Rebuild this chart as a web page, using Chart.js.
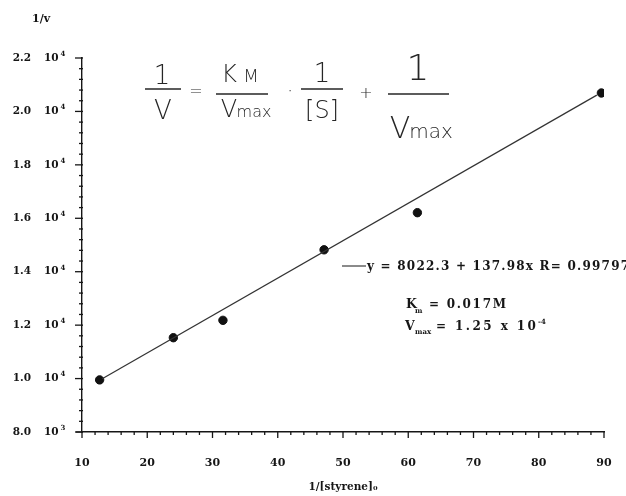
<!DOCTYPE html>
<html>
<head>
<meta charset="utf-8">
<script src="https://cdn.jsdelivr.net/npm/chart.js@4/dist/chart.umd.min.js"></script>
<style>
  html, body { margin: 0; padding: 0; background: #ffffff; }
  #wrap { width: 626px; height: 496px; }
</style>
</head>
<body>
<div id="wrap"><canvas id="c" width="626" height="496"></canvas></div>
<script>
// ---- data ----
const invSubstrate = [12.7, 24.0, 31.6, 47.1, 61.4, 89.6];      // 1/[styrene]o
const invRate      = [9950, 11530, 12180, 14820, 16210, 20690]; // 1/v
const fitX = [13.1, 88.9];       // ends of the drawn regression line
const fitY = [9990, 20610];
const xTicks = [10, 20, 30, 40, 50, 60, 70, 80, 90];
const yTicks = [8000, 10000, 12000, 14000, 16000, 18000, 20000, 22000];
const yTickNums = ['8.0', '1.0', '1.2', '1.4', '1.6', '1.8', '2.0', '2.2'];
const yTickPows = ['10\u00B3', '10\u2074', '10\u2074', '10\u2074', '10\u2074', '10\u2074', '10\u2074', '10\u2074'];
const fitText = 'y = 8022.3 + 137.98x R= 0.99797';
const kmText = '= 0.017M';
const vmaxText = '= 1.25 x 10';

const INK = '#161616';
const SERIF = '"DejaVu Serif", "Liberation Serif", serif';

function fillFit(ctx, text, x, y, target) {
  ctx.letterSpacing = '0px';
  const w = ctx.measureText(text).width;
  const n = Math.max(1, text.length - 1);
  const ls = Math.max(0, (target - w) / n);
  ctx.letterSpacing = ls.toFixed(2) + 'px';
  ctx.fillText(text, x, y);
  ctx.letterSpacing = '0px';
}

const minorTicks = {
  id: 'minorTicks',
  afterDraw(chart) {
    const ctx = chart.ctx;
    const xs = chart.scales.x, ys = chart.scales.y;
    const ca = chart.chartArea;
    ctx.save();
    ctx.strokeStyle = INK;
    ctx.lineWidth = 1.3;
    ctx.beginPath(); ctx.moveTo(ca.left - 6, ca.bottom); ctx.lineTo(ca.left, ca.bottom); ctx.stroke();
    for (let v = xs.min; v <= xs.max + 1e-9; v += 2) {
      const px = xs.getPixelForValue(v);
      const major = Math.abs(v % 10) < 1e-9;
      ctx.beginPath();
      ctx.moveTo(px, ca.bottom);
      ctx.lineTo(px, ca.bottom + (major ? 6 : 3));
      ctx.stroke();
    }
    for (let v = ys.min; v <= ys.max + 1e-9; v += 400) {
      const py = ys.getPixelForValue(v);
      const major = Math.abs(v % 2000) < 1e-6;
      ctx.beginPath();
      ctx.moveTo(ca.left - (major ? 7 : 3), py);
      ctx.lineTo(ca.left + 1, py);
      ctx.stroke();
    }
    ctx.restore();
  }
};

const notes = {
  id: 'notes',
  afterDraw(chart) {
    const ctx = chart.ctx;
    ctx.save();
    ctx.fillStyle = INK;
    ctx.strokeStyle = INK;
    ctx.textAlign = 'left';
    ctx.textBaseline = 'alphabetic';
    // y axis title
    ctx.font = 'bold 11px ' + SERIF;
    fillFit(ctx, '1/v', 32, 22, 17);

    // fit line legend + equation
    ctx.lineWidth = 1;
    ctx.beginPath(); ctx.moveTo(342, 266); ctx.lineTo(366, 266); ctx.stroke();
    ctx.font = 'bold 12px ' + SERIF;
    fillFit(ctx, fitText, 367, 270, 262);

    // Km
    ctx.font = 'bold 12.5px ' + SERIF;
    ctx.fillText('K', 406, 308);
    ctx.font = 'bold 7px ' + SERIF;
    ctx.fillText('m', 415, 313);
    ctx.font = 'bold 12px ' + SERIF;
    fillFit(ctx, kmText, 429, 308, 77);
    // Vmax
    ctx.font = 'bold 12.5px ' + SERIF;
    ctx.fillText('V', 405, 330);
    ctx.font = 'bold 7px ' + SERIF;
    fillFit(ctx, 'max', 415, 334, 16);
    ctx.font = 'bold 12px ' + SERIF;
    fillFit(ctx, vmaxText, 436, 330, 100);
    ctx.font = 'bold 7px ' + SERIF;
    ctx.fillText('-4', 538, 324);

    // handwritten Lineweaver-Burk equation
    const HAND = '"DejaVu Sans", sans-serif';
    ctx.fillStyle = '#262626';
    ctx.strokeStyle = '#262626';
    ctx.lineWidth = 1.3;
    ctx.textAlign = 'center';
    const bar = (x1, x2, y) => { ctx.beginPath(); ctx.moveTo(x1, y); ctx.lineTo(x2, y); ctx.stroke(); };
    ctx.font = '200 26px ' + HAND;
    ctx.fillText('1', 162, 84);
    bar(145, 181, 89);
    ctx.fillText('V', 163, 119);
    ctx.font = '200 16px ' + HAND;
    ctx.fillText('=', 196, 96);
    ctx.font = '200 24px ' + HAND;
    ctx.fillText('K', 229, 82);
    ctx.font = '200 18px ' + HAND;
    ctx.fillText('M', 251, 82);
    bar(216, 268, 94);
    ctx.font = '200 24px ' + HAND;
    ctx.fillText('V', 229, 117);
    ctx.font = '200 16px ' + HAND;
    ctx.fillText('max', 254, 117);
    ctx.font = '200 18px ' + HAND;
    ctx.fillText('\u00B7', 290, 97);
    ctx.font = '200 26px ' + HAND;
    ctx.fillText('1', 322, 82);
    bar(301, 343, 89);
    ctx.font = '200 24px ' + HAND;
    ctx.fillText('[S]', 322, 118);
    ctx.font = '200 16px ' + HAND;
    ctx.fillText('+', 366, 98);
    ctx.font = '200 36px ' + HAND;
    ctx.fillText('1', 418, 80);
    bar(388, 449, 94);
    ctx.font = '200 30px ' + HAND;
    ctx.fillText('V', 400, 138);
    ctx.font = '200 20px ' + HAND;
    ctx.fillText('max', 431, 138);
    ctx.restore();
  }
};

// y tick labels: number and power of ten drawn through the y scale's pixel positions
const yLabels = {
  id: 'yLabels',
  afterDraw(chart) {
    const ctx = chart.ctx;
    const ys = chart.scales.y;
    ctx.save();
    ctx.fillStyle = INK;
    ctx.textBaseline = 'middle';
    yTicks.forEach((v, i) => {
      const py = ys.getPixelForValue(v);
      ctx.textAlign = 'right';
      ctx.font = 'bold 10.5px ' + SERIF;
      ctx.fillText(yTickNums[i], 31, py);
      ctx.textAlign = 'left';
      ctx.fillText(yTickPows[i].slice(0, 2), 44, py);
      const w = ctx.measureText('10').width;
      ctx.font = 'bold 7px ' + SERIF;
      ctx.fillText(yTickPows[i].slice(2) === '\u00B3' ? '3' : '4', 44 + w + 2, py - 4);
    });
    ctx.restore();
  }
};

new Chart(document.getElementById('c'), {
  type: 'scatter',
  data: {
    datasets: [
      {
        type: 'line',
        data: fitX.map((x, i) => ({ x, y: fitY[i] })),
        borderColor: '#333333',
        borderWidth: 1.2,
        pointRadius: 0,
        fill: false
      },
      {
        data: invSubstrate.map((x, i) => ({ x, y: invRate[i] })),
        backgroundColor: '#111111',
        borderColor: '#111111',
        pointRadius: 4.2,
        pointStyle: 'circle'
      }
    ]
  },
  options: {
    responsive: false,
    devicePixelRatio: 1,
    animation: false,
    layout: { padding: { top: 58, right: 22, left: 0, bottom: 0 } },
    plugins: { legend: { display: false }, tooltip: { enabled: false } },
    scales: {
      x: {
        type: 'linear',
        min: 10, max: 90,
        afterBuildTicks: s => { s.ticks = xTicks.map(v => ({ value: v })); },
        afterFit: s => { s.height = 64; },
        grid: { display: false, drawTicks: true, tickLength: 25, tickColor: 'rgba(0,0,0,0)' },
        border: { display: true, color: INK, width: 1.4 },
        ticks: {
          padding: 0,
          color: INK,
          font: { family: SERIF, size: 11, weight: 'bold' },
          maxRotation: 0
        },
        title: {
          display: true,
          text: '1/[styrene]\u2080',
          color: INK,
          font: { family: SERIF, size: 10.5, weight: 'bold' },
          padding: { top: 0, bottom: 2 }
        }
      },
      y: {
        type: 'linear',
        min: 8000, max: 22000,
        afterBuildTicks: s => { s.ticks = yTicks.map(v => ({ value: v })); },
        afterFit: s => { s.width = 82; },
        grid: { display: false, drawTicks: false },
        border: { display: true, color: INK, width: 1.4 },
        ticks: { display: false }
      }
    }
  },
  plugins: [minorTicks, notes, yLabels]
});
</script>
</body>
</html>
